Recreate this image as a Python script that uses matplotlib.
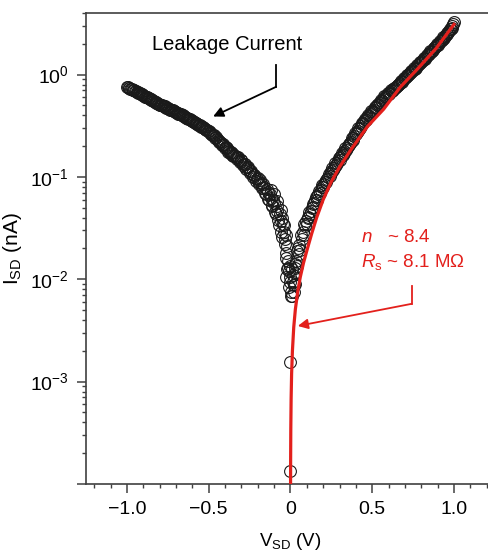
import numpy as np
import matplotlib
matplotlib.use('Agg')
import matplotlib.pyplot as plt
from matplotlib.ticker import MultipleLocator, LogLocator, NullFormatter, FixedLocator

plt.rcParams['font.family'] = ['Liberation Sans', 'DejaVu Sans']
plt.rcParams['mathtext.fontset'] = 'custom'
plt.rcParams['mathtext.rm'] = 'Liberation Sans'
plt.rcParams['mathtext.it'] = 'Liberation Sans:italic'

# measured I-V, negative bias (leakage branch), V in volts, I in nA
# sweep 1
left_v = [-1.00, -0.99, -0.98, -0.97, -0.96, -0.95, -0.94, -0.93, -0.92, -0.91,
          -0.90, -0.89, -0.88, -0.87, -0.86, -0.85, -0.84, -0.83, -0.82, -0.81,
          -0.80, -0.79, -0.78, -0.77, -0.76, -0.75, -0.74, -0.73, -0.72, -0.71,
          -0.70, -0.69, -0.68, -0.67, -0.66, -0.65, -0.64, -0.63, -0.62, -0.61,
          -0.60, -0.59, -0.58, -0.57, -0.56, -0.55, -0.54, -0.53, -0.52, -0.51,
          -0.50, -0.49, -0.48, -0.47, -0.46, -0.45, -0.44, -0.43, -0.42, -0.41,
          -0.40, -0.39, -0.38, -0.37, -0.36, -0.35, -0.34, -0.33, -0.32, -0.31,
          -0.30, -0.29, -0.28, -0.27, -0.26, -0.25, -0.24, -0.23, -0.22, -0.21,
          -0.20, -0.19, -0.18, -0.17, -0.16, -0.15, -0.14, -0.13, -0.12, -0.11,
          -0.10, -0.09, -0.08, -0.07, -0.06, -0.05, -0.04, -0.03, -0.02, -0.01]
left_i = [0.76, 0.74, 0.73, 0.72, 0.70, 0.69, 0.68, 0.66, 0.66, 0.64,
          0.63, 0.61, 0.60, 0.59, 0.58, 0.56, 0.55, 0.54, 0.53, 0.52,
          0.51, 0.51, 0.49, 0.49, 0.47, 0.47, 0.46, 0.45, 0.45, 0.44,
          0.43, 0.42, 0.41, 0.41, 0.40, 0.39, 0.38, 0.38, 0.37, 0.36,
          0.355, 0.345, 0.34, 0.33, 0.325, 0.315, 0.31, 0.30, 0.295, 0.285,
          0.28, 0.27, 0.26, 0.255, 0.24, 0.235, 0.22, 0.22, 0.205, 0.205,
          0.19, 0.19, 0.175, 0.17, 0.17, 0.16, 0.16, 0.15, 0.155, 0.14,
          0.145, 0.13, 0.135, 0.12, 0.125, 0.11, 0.115, 0.10, 0.105, 0.092,
          0.097, 0.086, 0.088, 0.078, 0.080, 0.068, 0.072, 0.060, 0.063, 0.052,
          0.056, 0.043, 0.047, 0.034, 0.037, 0.026, 0.029, 0.018, 0.021, 0.012]
# sweep 2
left_v2 = [-0.995, -0.985, -0.975, -0.965, -0.955, -0.945, -0.935, -0.925, -0.915, -0.905,
           -0.895, -0.885, -0.875, -0.865, -0.855, -0.845, -0.835, -0.825, -0.815, -0.805,
           -0.795, -0.785, -0.775, -0.765, -0.755, -0.745, -0.735, -0.725, -0.715, -0.705,
           -0.695, -0.685, -0.675, -0.665, -0.655, -0.645, -0.635, -0.625, -0.615, -0.605,
           -0.595, -0.585, -0.575, -0.565, -0.555, -0.545, -0.535, -0.525, -0.515, -0.505,
           -0.495, -0.485, -0.475, -0.465, -0.455, -0.445, -0.435, -0.425, -0.415, -0.405,
           -0.395, -0.385, -0.375, -0.365, -0.355, -0.345, -0.335, -0.325, -0.315, -0.305,
           -0.295, -0.285, -0.275, -0.265, -0.255, -0.245, -0.235, -0.225, -0.215, -0.205,
           -0.195, -0.185, -0.175, -0.165, -0.155, -0.145, -0.135, -0.125, -0.115, -0.105,
           -0.095, -0.085, -0.075, -0.065, -0.055, -0.045, -0.035, -0.025, -0.015, -0.005]
left_i2 = [0.75, 0.735, 0.72, 0.71, 0.70, 0.685, 0.67, 0.665, 0.65, 0.635,
           0.625, 0.61, 0.60, 0.585, 0.575, 0.56, 0.55, 0.54, 0.525, 0.515,
           0.505, 0.50, 0.49, 0.48, 0.47, 0.465, 0.455, 0.45, 0.44, 0.435,
           0.425, 0.415, 0.41, 0.40, 0.395, 0.385, 0.38, 0.37, 0.365, 0.355,
           0.35, 0.34, 0.335, 0.325, 0.32, 0.31, 0.305, 0.295, 0.29, 0.28,
           0.275, 0.265, 0.26, 0.25, 0.245, 0.23, 0.225, 0.215, 0.21, 0.20,
           0.195, 0.185, 0.18, 0.175, 0.165, 0.165, 0.155, 0.155, 0.145, 0.145,
           0.138, 0.135, 0.125, 0.125, 0.116, 0.115, 0.106, 0.104, 0.097, 0.096,
           0.089, 0.093, 0.078, 0.085, 0.070, 0.076, 0.061, 0.068, 0.053, 0.060,
           0.045, 0.052, 0.038, 0.043, 0.029, 0.035, 0.022, 0.027, 0.015, 0.0135]

# scattered points around the minimum and zero bias
mid_v = [-0.12, -0.10, -0.08, -0.06, -0.05, -0.04, -0.035, -0.025, -0.015, -0.005,
         0.01, 0.025, 0.04, -0.03, -0.02, -0.01, 0.0, 0.005, 0.015, 0.02,
         0.03, 0.0, 0.0]
mid_i = [0.075, 0.068, 0.058, 0.048, 0.040, 0.034, 0.025, 0.016, 0.013, 0.0095,
         0.0125, 0.013, 0.019, 0.0105, 0.0125, 0.0085, 0.0105, 0.0068, 0.0095, 0.0075,
         0.0089, 0.00155, 0.000135]

# positive bias branch, sweep 1
right_v = [0.01, 0.02, 0.03, 0.04, 0.05, 0.06, 0.07, 0.08, 0.09, 0.10,
           0.11, 0.12, 0.13, 0.14, 0.15, 0.16, 0.17, 0.18, 0.19, 0.20,
           0.21, 0.22, 0.23, 0.24, 0.25, 0.26, 0.27, 0.28, 0.29, 0.30,
           0.31, 0.32, 0.33, 0.34, 0.35, 0.36, 0.37, 0.38, 0.39, 0.40,
           0.41, 0.42, 0.43, 0.44, 0.45, 0.46, 0.47, 0.48, 0.49, 0.50,
           0.51, 0.52, 0.53, 0.54, 0.55, 0.56, 0.57, 0.58, 0.59, 0.60,
           0.61, 0.62, 0.63, 0.64, 0.65, 0.66, 0.67, 0.68, 0.69, 0.70,
           0.71, 0.72, 0.73, 0.74, 0.75, 0.76, 0.77, 0.78, 0.79, 0.80,
           0.81, 0.82, 0.83, 0.84, 0.85, 0.86, 0.87, 0.88, 0.89, 0.90,
           0.91, 0.92, 0.93, 0.94, 0.95, 0.96, 0.97, 0.98, 0.99, 1.00]
right_i = [0.0068, 0.0088, 0.0115, 0.0135, 0.0175, 0.0195, 0.0245, 0.027, 0.033, 0.035,
           0.041, 0.043, 0.050, 0.051, 0.059, 0.060, 0.068, 0.070, 0.079, 0.080,
           0.089, 0.090, 0.101, 0.103, 0.115, 0.116, 0.128, 0.131, 0.143, 0.147,
           0.160, 0.163, 0.178, 0.184, 0.200, 0.205, 0.222, 0.230, 0.250, 0.262,
           0.280, 0.292, 0.312, 0.330, 0.352, 0.360, 0.385, 0.395, 0.42, 0.43,
           0.455, 0.47, 0.50, 0.51, 0.545, 0.55, 0.585, 0.60, 0.635, 0.64,
           0.67, 0.69, 0.72, 0.735, 0.77, 0.79, 0.83, 0.85, 0.89, 0.92,
           0.96, 0.99, 1.03, 1.06, 1.11, 1.14, 1.20, 1.23, 1.29, 1.33,
           1.39, 1.43, 1.50, 1.55, 1.62, 1.67, 1.75, 1.81, 1.89, 1.96,
           2.05, 2.12, 2.22, 2.30, 2.42, 2.52, 2.65, 2.82, 3.00, 3.30]
# positive bias branch, sweep 2
right_v2 = [0.005, 0.015, 0.025, 0.035, 0.045, 0.055, 0.065, 0.075, 0.085, 0.095,
            0.105, 0.115, 0.125, 0.135, 0.145, 0.155, 0.165, 0.175, 0.185, 0.195,
            0.205, 0.215, 0.225, 0.235, 0.245, 0.255, 0.265, 0.275, 0.285, 0.295,
            0.305, 0.315, 0.325, 0.335, 0.345, 0.355, 0.365, 0.375, 0.385, 0.395,
            0.405, 0.415, 0.425, 0.435, 0.445, 0.455, 0.465, 0.475, 0.485, 0.495,
            0.505, 0.515, 0.525, 0.535, 0.545, 0.555, 0.565, 0.575, 0.585, 0.595,
            0.605, 0.615, 0.625, 0.635, 0.645, 0.655, 0.665, 0.675, 0.685, 0.695,
            0.705, 0.715, 0.725, 0.735, 0.745, 0.755, 0.765, 0.775, 0.785, 0.795,
            0.805, 0.815, 0.825, 0.835, 0.845, 0.855, 0.865, 0.875, 0.885, 0.895,
            0.905, 0.915, 0.925, 0.935, 0.945, 0.955, 0.965, 0.975, 0.985, 0.995]
right_i2 = [0.0075, 0.0110, 0.0140, 0.0150, 0.0200, 0.0215, 0.0270, 0.0290, 0.0350, 0.0375,
            0.040, 0.045, 0.047, 0.054, 0.056, 0.064, 0.065, 0.073, 0.075, 0.083,
            0.085, 0.094, 0.096, 0.106, 0.109, 0.121, 0.123, 0.136, 0.138, 0.152,
            0.155, 0.170, 0.172, 0.190, 0.193, 0.212, 0.216, 0.238, 0.242, 0.268,
            0.272, 0.298, 0.302, 0.335, 0.34, 0.37, 0.375, 0.405, 0.41, 0.44,
            0.445, 0.48, 0.485, 0.52, 0.53, 0.565, 0.575, 0.615, 0.62, 0.655,
            0.66, 0.70, 0.705, 0.745, 0.755, 0.80, 0.81, 0.865, 0.87, 0.93,
            0.94, 1.00, 1.01, 1.08, 1.09, 1.16, 1.17, 1.25, 1.26, 1.34,
            1.36, 1.45, 1.46, 1.56, 1.58, 1.69, 1.71, 1.83, 1.85, 1.98,
            2.00, 2.14, 2.17, 2.32, 2.36, 2.54, 2.60, 2.80, 2.88, 3.15]

# diode fit (red curve)
fit_v = [0.0006, 0.001, 0.002, 0.004, 0.007, 0.012, 0.02, 0.03, 0.045, 0.06,
         0.08, 0.10, 0.13, 0.16, 0.20, 0.25, 0.30, 0.37, 0.47, 0.57,
         0.67, 0.78, 0.89, 1.00]
fit_i = [1.0e-4, 1.7e-4, 3.4e-4, 6.8e-4, 1.2e-3, 2.0e-3, 3.4e-3, 5.1e-3, 7.7e-3, 0.0105,
         0.0145, 0.019, 0.028, 0.040, 0.060, 0.090, 0.125, 0.185, 0.31, 0.46,
         0.75, 1.15, 1.80, 3.10]

red = '#e3201c'

fig = plt.figure(figsize=(4.89, 5.54), dpi=100)
ax = fig.add_axes([0.176, 0.1264, 0.836, 0.8501])
ax.set_yscale('log')

all_v = left_v + left_v2 + mid_v + right_v + right_v2
all_i = left_i + left_i2 + mid_i + right_i + right_i2
ax.plot(all_v, all_i, 'o', mfc='none', mec='#1a1a1a', ms=8.5, mew=0.8, zorder=2)
ax.plot(fit_v, fit_i, color=red, lw=2.3, zorder=3)

ax.set_xlim(-1.25, 1.25)
ax.set_ylim(1e-4, 4)

ax.set_xticks([-1.0, -0.5, 0, 0.5, 1.0])
ax.set_xticklabels(['\u22121.0', '\u22120.5', '0', '0.5', '1.0'])
ax.xaxis.set_minor_locator(MultipleLocator(0.1))
ax.yaxis.set_major_locator(FixedLocator([1e-4, 1e-3, 1e-2, 1e-1, 1]))
ax.set_yticklabels(['', r'$10^{-3}$', r'$10^{-2}$', r'$10^{-1}$', r'$10^{0}$'])
ax.yaxis.set_minor_locator(LogLocator(base=10, subs=range(2, 10), numticks=20))
ax.yaxis.set_minor_formatter(NullFormatter())

ax.spines['right'].set_visible(False)
for s in ['left', 'bottom', 'top']:
    ax.spines[s].set_color('#404040')
    ax.spines[s].set_linewidth(1.2)
ax.tick_params(which='major', direction='out', length=6.5, width=1.1,
               color='#404040', labelsize=14, pad=6, top=False, right=False)
ax.tick_params(which='minor', direction='out', length=3, width=1.0,
               color='#404040', top=False, right=False)

ax.set_xlabel(r'V$_{\rm SD}$ (V)', fontsize=13.5, labelpad=9)
ax.set_ylabel(r'I$_{\rm SD}$ (nA)', fontsize=15, labelpad=4)

# leakage annotation
ax.text(-0.845, 1.95, 'Leakage Current', fontsize=14.5, ha='left', va='center')
ax.plot([-0.088, -0.088], [1.25, 0.76], color='k', lw=1.3)
ax.annotate('', xy=(-0.473, 0.39), xytext=(-0.088, 0.76),
            arrowprops=dict(arrowstyle='-|>', color='k', lw=1.3,
                            mutation_scale=15, shrinkA=0, shrinkB=0))

# fit annotation
ax.text(0.43, 0.0259, '$\\mathit{n}$   ~ 8.4', color=red, fontsize=13.5,
        ha='left', va='center')
ax.text(0.43, 0.0148, '$\\mathit{R}_{\\rm s}$ ~ 8.1 M\u03a9', color=red,
        fontsize=13.5, ha='left', va='center')
ax.plot([0.741, 0.741], [0.00863, 0.00576], color=red, lw=1.3)
ax.annotate('', xy=(0.045, 0.0035), xytext=(0.741, 0.00576),
            arrowprops=dict(arrowstyle='-|>', color=red, lw=1.3,
                            mutation_scale=15, shrinkA=0, shrinkB=0))

fig.savefig('out.png', dpi=100, facecolor='white')
